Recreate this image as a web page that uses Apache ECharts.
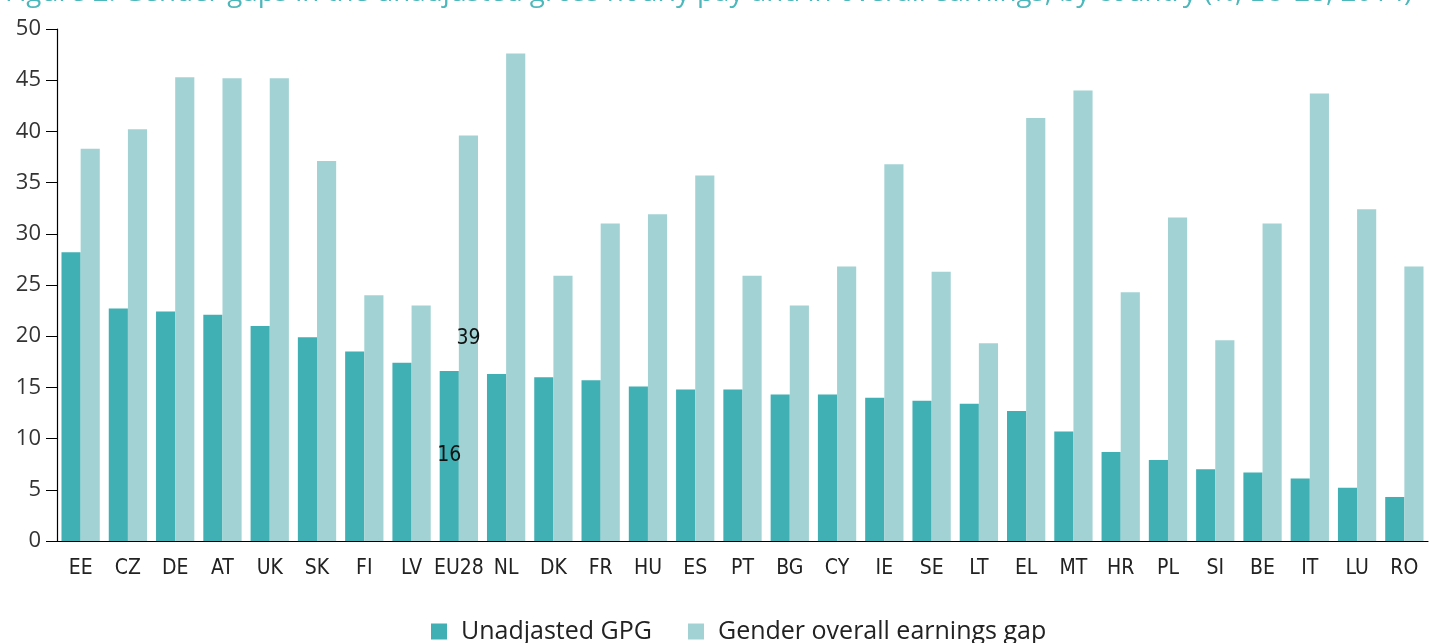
<!DOCTYPE html>
<html>
<head>
<meta charset="utf-8">
<script src="https://cdn.jsdelivr.net/npm/echarts@6/dist/echarts.min.js"></script>
<style>
  html, body { margin: 0; padding: 0; background: #fff; }
  #chart { width: 1430px; height: 643px; }
</style>
</head>
<body>
<div id="chart"></div>
<script>
const countries = ['EE', 'CZ', 'DE', 'AT', 'UK', 'SK', 'FI', 'LV', 'EU28', 'NL', 'DK', 'FR', 'HU', 'ES', 'PT',
  'BG', 'CY', 'IE', 'SE', 'LT', 'EL', 'MT', 'HR', 'PL', 'SI', 'BE', 'IT', 'LU', 'RO']
const unadjustedGpg = [28.2, 22.7, 22.4, 22.1, 21.0, 19.9, 18.5, 17.4, 16.6, 16.3, 16.0, 15.7, 15.1, 14.8, 14.8,
  14.3, 14.3, 14.0, 13.7, 13.4, 12.7, 10.7, 8.7, 7.9, 7.0, 6.7, 6.1, 5.2, 4.3]
const overallGap = [38.3, 40.2, 45.3, 45.2, 45.2, 37.1, 24.0, 23.0, 39.6, 47.6, 25.9, 31.0, 31.9, 35.7, 25.9,
  23.0, 26.8, 36.8, 26.3, 19.3, 41.3, 44.0, 24.3, 31.6, 19.6, 31.0, 43.7, 32.4, 26.8]
const seriesNames = ['Unadjasted GPG', 'Gender overall earnings gap']
const labelledCategory = 'EU28'

const darkTeal = '#40b0b4'
const lightTeal = '#a3d2d4'
const narrowFont = '"DejaVu Sans Condensed", "Liberation Sans Narrow", "Open Sans", sans-serif'

const chart = echarts.init(document.getElementById('chart'))

// only the EU28 pair carries a value label, printed in the middle of the bar
function makeLabel() {
  return {
    show: true,
    position: 'inside',
    fontFamily: narrowFont,
    fontSize: 21,
    color: '#111',
    formatter: p => p.name === labelledCategory ? String(Math.floor(p.value)) : ''
  }
}

chart.setOption({
  animation: false,
  title: {
    text: 'Figure 2: Gender gaps in the unadjusted gross hourly pay and in overall earnings, by country (%, EU-28, 2014)',
    left: 0,
    top: -26,
    textStyle: {
      fontFamily: 'Open Sans',
      fontWeight: 'normal',
      fontSize: 27.8,
      color: '#4db8bb'
    }
  },
  legend: {
    bottom: -6,
    left: 426,
    itemWidth: 16,
    itemHeight: 16,
    itemGap: 36,
    icon: 'rect',
    textStyle: {
      fontFamily: 'Open Sans',
      fontSize: 25,
      color: '#222',
      padding: [0, 0, 0, 9]
    },
    data: seriesNames
  },
  grid: {
    left: 57,
    right: 2,
    top: 29,
    bottom: 102
  },
  xAxis: {
    type: 'category',
    data: countries,
    axisLine: { lineStyle: { color: '#000', width: 1.2 } },
    axisTick: { show: false },
    axisLabel: {
      interval: 0,
      margin: 17,
      fontFamily: narrowFont,
      fontSize: 21,
      color: '#222'
    }
  },
  yAxis: {
    type: 'value',
    min: 0,
    max: 50,
    interval: 5,
    splitLine: { show: false },
    axisLine: { show: true, lineStyle: { color: '#000', width: 1.2 } },
    axisTick: { show: true, length: 11, lineStyle: { color: '#000' } },
    axisLabel: {
      margin: 16,
      fontFamily: 'Open Sans',
      fontSize: 22,
      color: '#333'
    }
  },
  series: [{
    name: seriesNames[0],
    type: 'bar',
    data: unadjustedGpg,
    barGap: 0,
    barCategoryGap: '19%',
    itemStyle: { color: darkTeal },
    label: makeLabel()
  }, {
    name: seriesNames[1],
    type: 'bar',
    data: overallGap,
    barGap: 0,
    barCategoryGap: '19%',
    itemStyle: { color: lightTeal },
    label: makeLabel()
  }]
})
</script>
</body>
</html>
